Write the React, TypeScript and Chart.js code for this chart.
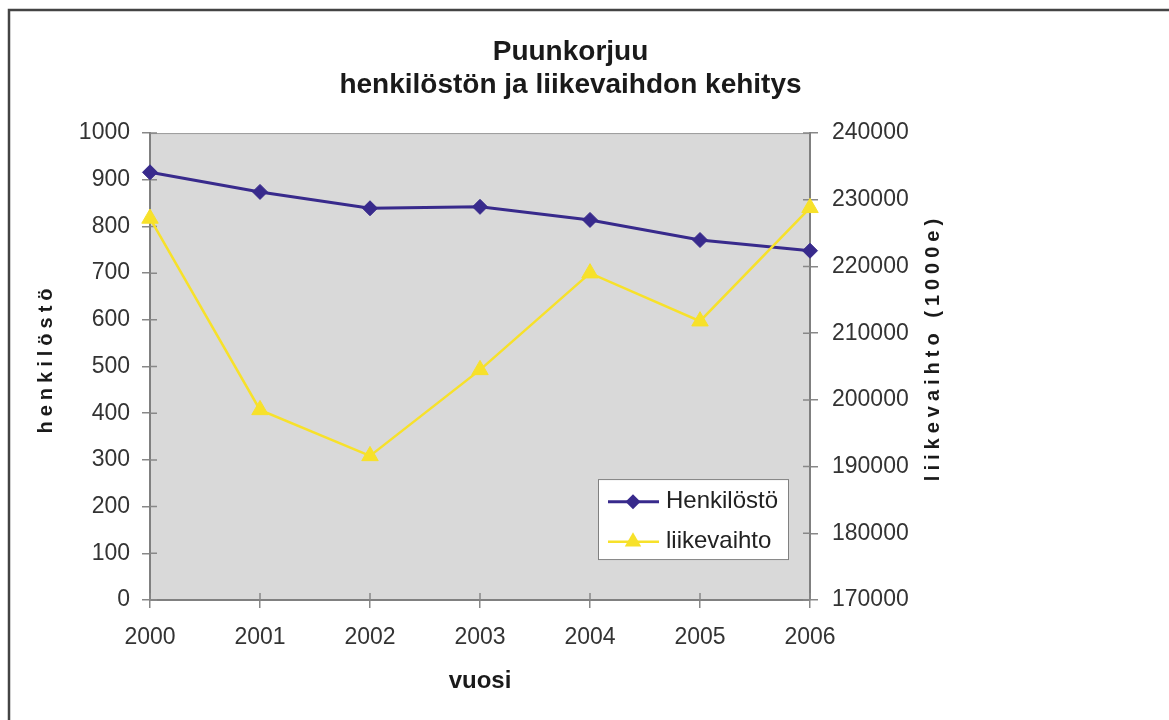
import React, { useEffect, useRef } from 'react';
import { Chart, registerables } from 'chart.js';

Chart.register(...registerables);

const years = ['2000', '2001', '2002', '2003', '2004', '2005', '2006'];
const henkilosto = [916, 874, 839, 842, 814, 771, 748];
const liikevaihto = [227200, 198500, 191600, 204500, 219000, 211800, 228800];
const titleLines = ['Puunkorjuu', 'henkilöstön ja liikevaihdon kehitys'];
const xTitle = 'vuosi';
const leftTitle = 'henkilöstö';
const rightTitle = 'liikevaihto (1000e)';
const seriesNames = ['Henkilöstö', 'liikevaihto'];

const FONT = "'Liberation Sans', Arial, sans-serif";
const NAVY = '#382a8c';
const YELLOW = '#f7e12a';

const bgPlugin = {
  id: 'bgPlugin',
  beforeDraw(chart: any) {
    const { ctx, chartArea } = chart;
    const { left, top, right, bottom } = chartArea;
    ctx.save();
    ctx.fillStyle = '#ffffff';
    ctx.fillRect(0, 0, chart.width, chart.height);
    ctx.strokeStyle = '#444444';
    ctx.lineWidth = 2.5;
    ctx.beginPath();
    ctx.moveTo(9, chart.height + 5);
    ctx.lineTo(9, 10);
    ctx.lineTo(chart.width + 5, 10);
    ctx.stroke();
    ctx.fillStyle = '#d9d9d9';
    ctx.fillRect(left, top, right - left, bottom - top);
    ctx.strokeStyle = '#9a9a9a';
    ctx.lineWidth = 1;
    ctx.strokeRect(left + 0.5, top + 0.5, right - left - 1, bottom - top - 1);
    ctx.restore();
  },
  beforeDatasetsDraw(chart: any) {
    const { ctx, chartArea, scales } = chart;
    ctx.save();
    ctx.strokeStyle = '#888888';
    ctx.lineWidth = 1.5;
    ctx.beginPath();
    scales.y.ticks.forEach((t: any) => {
      const p = scales.y.getPixelForValue(t.value);
      ctx.moveTo(chartArea.left, p);
      ctx.lineTo(chartArea.left + 7, p);
    });
    scales.y1.ticks.forEach((t: any) => {
      const p = scales.y1.getPixelForValue(t.value);
      ctx.moveTo(chartArea.right - 7, p);
      ctx.lineTo(chartArea.right, p);
    });
    years.forEach((_, i) => {
      const p = scales.x.getPixelForValue(i);
      ctx.moveTo(p, chartArea.bottom - 7);
      ctx.lineTo(p, chartArea.bottom);
    });
    ctx.stroke();
    ctx.restore();
  },
};

function drawDiamond(ctx: CanvasRenderingContext2D, x: number, y: number, r: number) {
  ctx.beginPath();
  ctx.moveTo(x, y - r);
  ctx.lineTo(x + r, y);
  ctx.lineTo(x, y + r);
  ctx.lineTo(x - r, y);
  ctx.closePath();
  ctx.fill();
}

function drawTriangle(ctx: CanvasRenderingContext2D, x: number, y: number, r: number) {
  const h = r * 1.5;
  const w = r * Math.sqrt(3);
  ctx.beginPath();
  ctx.moveTo(x, y - r);
  ctx.lineTo(x + w / 2, y - r + h);
  ctx.lineTo(x - w / 2, y - r + h);
  ctx.closePath();
  ctx.fill();
}

const overlayPlugin = {
  id: 'overlayPlugin',
  afterDraw(chart: any) {
    const { ctx, chartArea } = chart;
    ctx.save();
    ctx.fillStyle = '#1a1a1a';
    ctx.font = `bold 20px ${FONT}`;
    ctx.textAlign = 'center';
    ctx.textBaseline = 'middle';
    (ctx as any).letterSpacing = '5px';
    ctx.save();
    ctx.translate(46, 361);
    ctx.rotate(-Math.PI / 2);
    ctx.fillText(leftTitle, 2.5, 0);
    ctx.restore();
    ctx.save();
    ctx.translate(933, 350);
    ctx.rotate(-Math.PI / 2);
    ctx.fillText(rightTitle, 2.5, 0);
    ctx.restore();
    (ctx as any).letterSpacing = '0px';

    const lx = chartArea.left + 448;
    const ly = chartArea.top + 346;
    const lw = 191;
    const lh = 81;
    ctx.fillStyle = '#ffffff';
    ctx.fillRect(lx, ly, lw, lh);
    ctx.strokeStyle = '#808080';
    ctx.lineWidth = 1;
    ctx.strokeRect(lx + 0.5, ly + 0.5, lw - 1, lh - 1);
    const rows = [
      { y: ly + 22.7, color: NAVY, width: 3, kind: 'diamond' },
      { y: ly + 62.7, color: YELLOW, width: 2.5, kind: 'triangle' },
    ];
    rows.forEach((row, i) => {
      ctx.strokeStyle = row.color;
      ctx.lineWidth = row.width;
      ctx.beginPath();
      ctx.moveTo(lx + 10, row.y);
      ctx.lineTo(lx + 61, row.y);
      ctx.stroke();
      ctx.fillStyle = row.color;
      if (row.kind === 'diamond') drawDiamond(ctx, lx + 35, row.y, 7.5);
      else drawTriangle(ctx, lx + 35, row.y, 9.5);
      ctx.fillStyle = '#222222';
      ctx.font = `24px ${FONT}`;
      ctx.textAlign = 'left';
      ctx.textBaseline = 'alphabetic';
      ctx.fillText(seriesNames[i], lx + 68, row.y + 6);
    });
    ctx.restore();
  },
};

export default function App() {
  const canvasRef = useRef<HTMLCanvasElement | null>(null);

  useEffect(() => {
    document.body.style.margin = '0';
    const canvas = canvasRef.current;
    if (!canvas) return;
    const chart = new Chart(canvas, {
      type: 'line',
      data: {
        labels: years,
        datasets: [
          {
            label: seriesNames[0],
            data: henkilosto,
            yAxisID: 'y',
            borderColor: NAVY,
            backgroundColor: NAVY,
            pointBackgroundColor: NAVY,
            pointBorderColor: NAVY,
            pointStyle: 'rectRot',
            pointRadius: 7.5,
            pointBorderWidth: 1,
            borderWidth: 3,
            tension: 0,
            clip: false as any,
            order: 2,
          },
          {
            label: seriesNames[1],
            data: liikevaihto,
            yAxisID: 'y1',
            borderColor: YELLOW,
            backgroundColor: YELLOW,
            pointBackgroundColor: YELLOW,
            pointBorderColor: YELLOW,
            pointStyle: 'triangle',
            pointRadius: 9.5,
            pointBorderWidth: 1,
            borderWidth: 2.5,
            tension: 0,
            clip: false as any,
            order: 1,
          },
        ],
      },
      options: {
        responsive: false,
        animation: false,
        layout: { padding: { left: 0, right: 28, top: 0, bottom: 0 } },
        plugins: {
          legend: { display: false },
          tooltip: { enabled: false },
          title: {
            display: true,
            text: titleLines,
            color: '#1a1a1a',
            font: { family: FONT, size: 28, weight: 'bold', lineHeight: 1.18 },
            padding: { top: 36, bottom: 31 },
          },
        },
        scales: {
          x: {
            type: 'category',
            offset: false,
            grid: { drawOnChartArea: false, tickLength: 8, color: '#888888', lineWidth: 1.5 },
            border: { color: '#808080', width: 2 },
            ticks: {
              autoSkip: false,
              maxRotation: 0,
              padding: 16,
              color: '#333333',
              font: { family: FONT, size: 23 },
            },
            title: {
              display: true,
              text: xTitle,
              color: '#1a1a1a',
              font: { family: FONT, size: 24, weight: 'bold' },
              padding: { top: 0, bottom: 24 },
            },
            afterFit: (scale: any) => {
              scale.height = 120;
            },
          },
          y: {
            type: 'linear',
            position: 'left',
            min: 0,
            max: 1000,
            grid: { drawOnChartArea: false, tickLength: 8, color: '#888888', lineWidth: 1.5 },
            border: { color: '#808080', width: 2 },
            ticks: {
              stepSize: 100,
              padding: 12,
              color: '#333333',
              font: { family: FONT, size: 23 },
              callback: (v: any) => String(v),
            },
            afterFit: (scale: any) => {
              scale.width = 150;
            },
          },
          y1: {
            type: 'linear',
            position: 'right',
            min: 170000,
            max: 240000,
            grid: { drawOnChartArea: false, tickLength: 8, color: '#888888', lineWidth: 1.5 },
            border: { color: '#808080', width: 2 },
            ticks: {
              stepSize: 10000,
              padding: 14,
              color: '#333333',
              font: { family: FONT, size: 23 },
              callback: (v: any) => String(v),
            },
            afterFit: (scale: any) => {
              scale.width = 331;
            },
          },
        },
      },
      plugins: [bgPlugin, overlayPlugin],
    });
    return () => chart.destroy();
  }, []);

  return (
    <div style={{ position: 'fixed', left: 0, top: 0, width: 1169, height: 720 }}>
      <canvas ref={canvasRef} width={1169} height={720} />
    </div>
  );
}
